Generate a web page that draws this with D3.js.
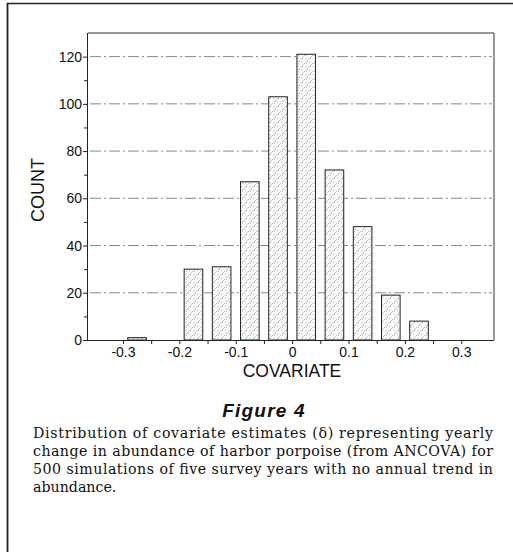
<!DOCTYPE html>
<html>
<head>
<meta charset="utf-8">
<script src="https://cdn.jsdelivr.net/npm/d3@7"></script>
<style>
  html, body { margin: 0; padding: 0; background: #fff; }
  svg { display: block; }
</style>
</head>
<body>
<svg id="chart" width="513" height="552"></svg>
<script>
// ---- data ----
const binCenters = [-0.275, -0.225, -0.175, -0.125, -0.075, -0.025, 0.025, 0.075, 0.125, 0.175, 0.225];
const counts = [1, 0, 30, 31, 67, 103, 121, 72, 48, 19, 8];
const xTickValues = [-0.3, -0.25, -0.2, -0.15, -0.1, -0.05, 0, 0.05, 0.1, 0.15, 0.2, 0.25, 0.3];
const xTickLabels = ["-0.3", "-0.2", "-0.1", "0", "0.1", "0.2", "0.3"];
const yTickValues = [0, 10, 20, 30, 40, 50, 60, 70, 80, 90, 100, 110, 120];
const yGridValues = [20, 40, 60, 80, 100, 120];
const yLabel = "COUNT";
const xLabel = "COVARIATE";
const figTitle = "Figure 4";
const captionLines = [
  "Distribution of covariate estimates (\u03B4) representing yearly",
  "change in abundance of harbor porpoise (from ANCOVA) for",
  "500 simulations of five survey years with no annual trend in",
  "abundance."
];

// ---- layout ----
const svg = d3.select("#chart");
const L = 88, R = 494, T = 33, B = 340;
const binWidth = 0.033;

const x = d3.scaleLinear().domain([-0.362, 0.358]).range([L, R]);
const y = d3.scaleLinear().domain([0, 130]).range([B, T]);

// outer page border
svg.append("line").attr("x1", 7).attr("x2", 513).attr("y1", 3.5).attr("y2", 3.5)
  .attr("stroke", "#222").attr("stroke-width", 1.6);
svg.append("line").attr("x1", 7.5).attr("x2", 7.5).attr("y1", 3).attr("y2", 552)
  .attr("stroke", "#222").attr("stroke-width", 1.8);

// pattern
const defs = svg.append("defs");
const pat = defs.append("pattern").attr("id", "hatch")
  .attr("patternUnits", "userSpaceOnUse").attr("width", 8).attr("height", 8);
pat.append("rect").attr("width", 8).attr("height", 8).attr("fill", "#fff");
pat.append("path").attr("d", "M0,8 L8,0 M-2,2 L2,-2 M6,10 L10,6")
  .attr("stroke", "#9a9a9a").attr("stroke-width", 0.7).attr("stroke-dasharray", "2,1");
[[1,2],[5,6],[3,5],[6,2],[2,7]].forEach(([cx, cy]) =>
  pat.append("rect").attr("x", cx).attr("y", cy).attr("width", 0.8).attr("height", 0.8).attr("fill", "#8a8a8a"));

// gridlines
svg.append("g").selectAll("line").data(yGridValues).join("line")
  .attr("x1", L + 2).attr("x2", R - 2)
  .attr("y1", d => y(d)).attr("y2", d => y(d))
  .attr("stroke", "#7a7a7a").attr("stroke-width", 0.9)
  .attr("stroke-dasharray", "11,3,2,3");

// frame (top and right)
svg.append("path").attr("d", `M${L},${T} H${R} V${B}`)
  .attr("fill", "none").attr("stroke", "#333").attr("stroke-width", 1);

// bars
svg.append("g").selectAll("rect").data(binCenters.map((c, i) => ({c, v: counts[i]})).filter(d => d.v > 0))
  .join("rect")
  .attr("x", d => x(d.c - binWidth / 2))
  .attr("width", d => x(d.c + binWidth / 2) - x(d.c - binWidth / 2))
  .attr("y", d => y(d.v))
  .attr("height", d => y(0) - y(d.v))
  .attr("fill", "url(#hatch)")
  .attr("stroke", "#222").attr("stroke-width", 1);

// axes
const fmtX = d => {
  const k = Math.round(d * 100);
  if (k % 10 !== 0) return "";
  return xTickLabels[(k / 10) + 3];
};
const xAxis = svg.append("g").attr("transform", `translate(0,${B})`)
  .call(d3.axisBottom(x).tickValues(xTickValues).tickSize(4).tickPadding(3).tickFormat(fmtX));
xAxis.select(".domain").attr("d", `M${L},0.5H${R}`);

const yAxis = svg.append("g").attr("transform", `translate(${L},0)`)
  .call(d3.axisLeft(y).tickValues(yTickValues).tickSize(5).tickPadding(1)
    .tickFormat(d => (d % 20 === 0 ? String(d) : "")));
yAxis.select(".domain").attr("d", `M-0.5,${T}V${B}`);

[xAxis, yAxis].forEach(g => {
  g.selectAll("text").attr("font-family", "Liberation Sans, Arial, sans-serif")
    .attr("font-size", 14).attr("fill", "#111");
  g.selectAll("line, path").attr("stroke", "#222");
});
yAxis.selectAll(".tick").filter(d => d % 20 !== 0).select("line").attr("x2", -4);

// axis titles
svg.append("text").attr("transform", `translate(44,190) rotate(-90)`)
  .attr("text-anchor", "middle")
  .attr("font-family", "Liberation Sans, Arial, sans-serif").attr("font-size", 18)
  .attr("fill", "#111").text(yLabel);
svg.append("text").attr("x", 292).attr("y", 377).attr("text-anchor", "middle")
  .attr("font-family", "Liberation Sans, Arial, sans-serif").attr("font-size", 17.5)
  .attr("fill", "#111").text(xLabel);

// caption
svg.append("text").attr("x", 264).attr("y", 417).attr("text-anchor", "middle")
  .attr("font-family", "Liberation Sans, Arial, sans-serif").attr("font-size", 19)
  .attr("font-weight", "bold").attr("font-style", "italic").attr("letter-spacing", 1.2)
  .attr("fill", "#111").text(figTitle);

const capY = [437.5, 456, 474, 492];
captionLines.forEach((t, i) => {
  const el = svg.append("text").attr("x", 33).attr("y", capY[i])
    .attr("font-family", "DejaVu Serif, serif").attr("font-size", 14.2)
    .attr("fill", "#111").text(t);
  if (i < captionLines.length - 1) el.attr("textLength", 460).attr("lengthAdjust", "spacing");
});
</script>
</body>
</html>
